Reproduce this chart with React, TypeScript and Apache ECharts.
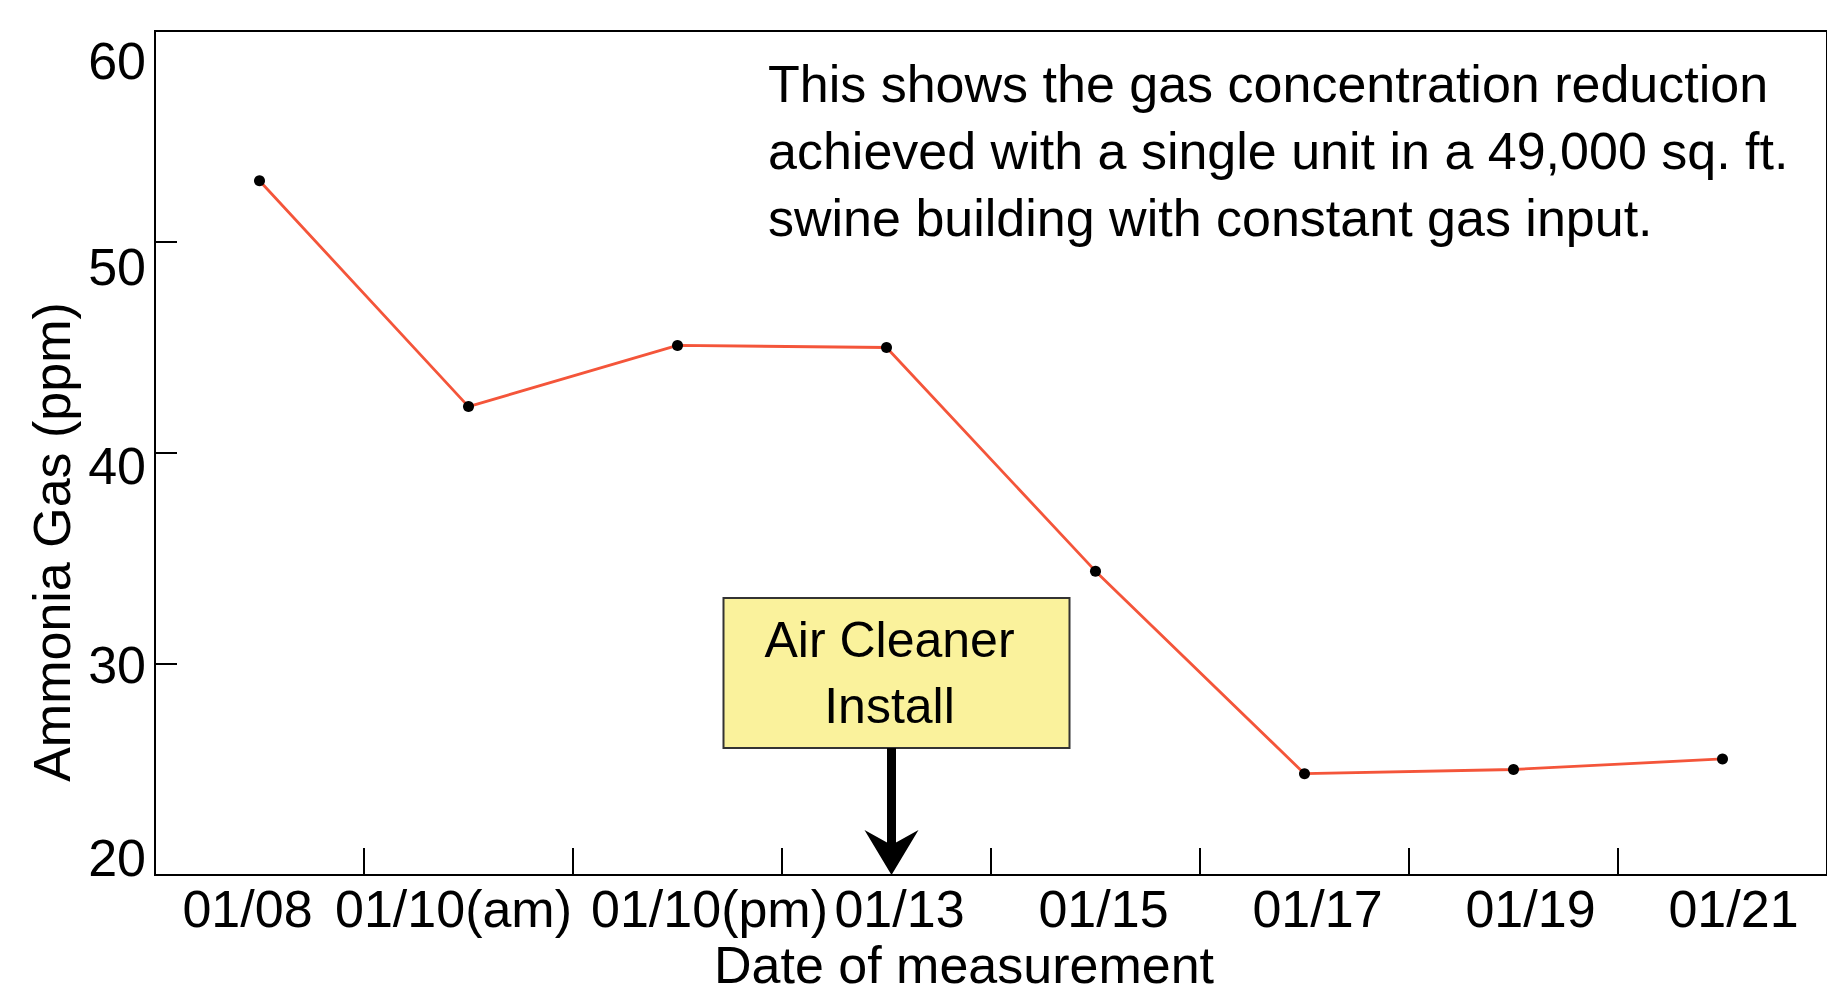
import React, { useEffect, useRef } from 'react';
import * as echarts from 'echarts';

const categories = ['01/08', '01/10(am)', '01/10(pm)', '01/13', '01/15', '01/17', '01/19', '01/21'];
const ammonia = [52.9, 42.2, 45.1, 45.0, 34.4, 24.8, 25.0, 25.5];
const yMin = 20;
const yMax = 60;
const yInterval = 10;
const yAxisTitle = 'Ammonia Gas (ppm)';
const xAxisTitle = 'Date of measurement';
const noteLines = [
  'This shows the gas concentration reduction',
  'achieved with a single unit in a 49,000 sq. ft.',
  'swine building with constant gas input.',
];
const installDate = '01/13';
const installLabel = ['Air Cleaner', 'Install'];

// small horizontal nudges of the x labels (px), as in the original artwork
const xLabelNudge = [-12, -15, 32, 13, 8, 13, 17, 11];
// small vertical nudges of the y labels (px), for values 20,30,40,50,60
const yLabelNudge = [-17, 1, 13, 25, 30];

const FONT = '"Liberation Sans", Arial, Helvetica, sans-serif';

function hPad(d: number) {
  return d >= 0 ? [0, 0, 0, 2 * d] : [0, -2 * d, 0, 0];
}
function vPad(d: number) {
  return d >= 0 ? [2 * d, 0, 0, 0] : [0, 0, -2 * d, 0];
}

export default function App() {
  const ref = useRef<HTMLDivElement>(null);
  useEffect(() => {
    const chart = echarts.init(ref.current!, null, { renderer: 'svg' });

    const xRich: Record<string, any> = {};
    xLabelNudge.forEach((d, i) => {
      xRich['x' + i] = { fontSize: 52, fontFamily: FONT, color: '#000', padding: hPad(d) };
    });
    const yRich: Record<string, any> = {};
    yLabelNudge.forEach((d, i) => {
      yRich['y' + i] = { fontSize: 52, fontFamily: FONT, color: '#000', padding: vPad(d) };
    });

    chart.setOption({
      animation: false,
      backgroundColor: '#ffffff',
      grid: {
        left: 155,
        top: 31,
        right: -8,
        bottom: 119,
        show: true,
        borderColor: '#000',
        borderWidth: 2,
        backgroundColor: 'transparent',
      },
      xAxis: {
        type: 'category',
        data: categories,
        boundaryGap: true,
        axisLine: { show: true, lineStyle: { color: '#000', width: 2 } },
        axisTick: { show: true, inside: true, length: 27, lineStyle: { color: '#000', width: 2 } },
        axisLabel: {
          color: '#000',
          fontSize: 52,
          fontFamily: FONT,
          margin: 8,
          interval: 0,
          formatter: (v: string, i: number) => `{x${i}|${v}}`,
          rich: xRich,
        },
        splitLine: { show: false },
      },
      yAxis: {
        type: 'value',
        min: yMin,
        max: yMax,
        interval: yInterval,
        axisLine: { show: true, lineStyle: { color: '#000', width: 2 } },
        axisTick: { show: true, inside: true, length: 22, lineStyle: { color: '#000', width: 2 } },
        axisLabel: {
          color: '#000',
          fontSize: 52,
          fontFamily: FONT,
          margin: 9,
          formatter: (v: number) => `{y${Math.round((v - yMin) / yInterval)}|${v}}`,
          rich: yRich,
        },
        splitLine: { show: false },
      },
      series: [
        {
          type: 'line',
          data: ammonia,
          symbol: 'circle',
          symbolSize: 11,
          itemStyle: { color: '#000' },
          lineStyle: { color: '#f4553a', width: 2.8 },
          z: 3,
        },
      ],
    });

    const ax = (chart.convertToPixel({ xAxisIndex: 0 }, categories.indexOf(installDate)) as number) + 5;
    const by = chart.convertToPixel({ yAxisIndex: 0 }, yMin) as number;
    const boxTop = 598;
    const boxBottom = 748;

    chart.setOption({
      graphic: [
        {
          type: 'text',
          left: 768,
          top: 50,
          style: {
            text: noteLines.join('\n'),
            fontSize: 52,
            fontFamily: FONT,
            lineHeight: 67,
            fill: '#000',
          },
        },
        {
          type: 'text',
          x: 52,
          y: 542,
          rotation: Math.PI / 2,
          style: {
            text: yAxisTitle,
            fontSize: 52,
            fontFamily: FONT,
            fill: '#000',
            align: 'center',
            verticalAlign: 'middle',
          },
        },
        {
          type: 'text',
          x: 964,
          y: 965,
          style: {
            text: xAxisTitle,
            fontSize: 52,
            fontFamily: FONT,
            fill: '#000',
            align: 'center',
            verticalAlign: 'middle',
          },
        },
        {
          type: 'rect',
          shape: { x: ax - 168, y: boxTop, width: 346, height: boxBottom - boxTop },
          style: { fill: '#faf29c', stroke: '#333', lineWidth: 2 },
          z: 10,
        },
        {
          type: 'text',
          x: ax - 2,
          y: (boxTop + boxBottom) / 2,
          style: {
            text: installLabel.join('\n'),
            fontSize: 50,
            fontFamily: FONT,
            lineHeight: 66,
            fill: '#000',
            align: 'center',
            verticalAlign: 'middle',
          },
          z: 11,
        },
        {
          type: 'line',
          shape: { x1: ax, y1: boxBottom, x2: ax, y2: by - 25 },
          style: { stroke: '#000', lineWidth: 9 },
          z: 10,
        },
        {
          type: 'polygon',
          shape: {
            points: [
              [ax, by],
              [ax - 27, by - 45],
              [ax, by - 30],
              [ax + 27, by - 45],
            ],
          },
          style: { fill: '#000' },
          z: 10,
        },
      ],
    });

    return () => chart.dispose();
  }, []);
  return (
    <div
      ref={ref}
      style={{ position: 'fixed', left: 0, top: 0, width: 1827, height: 994, background: '#fff' }}
    />
  );
}
